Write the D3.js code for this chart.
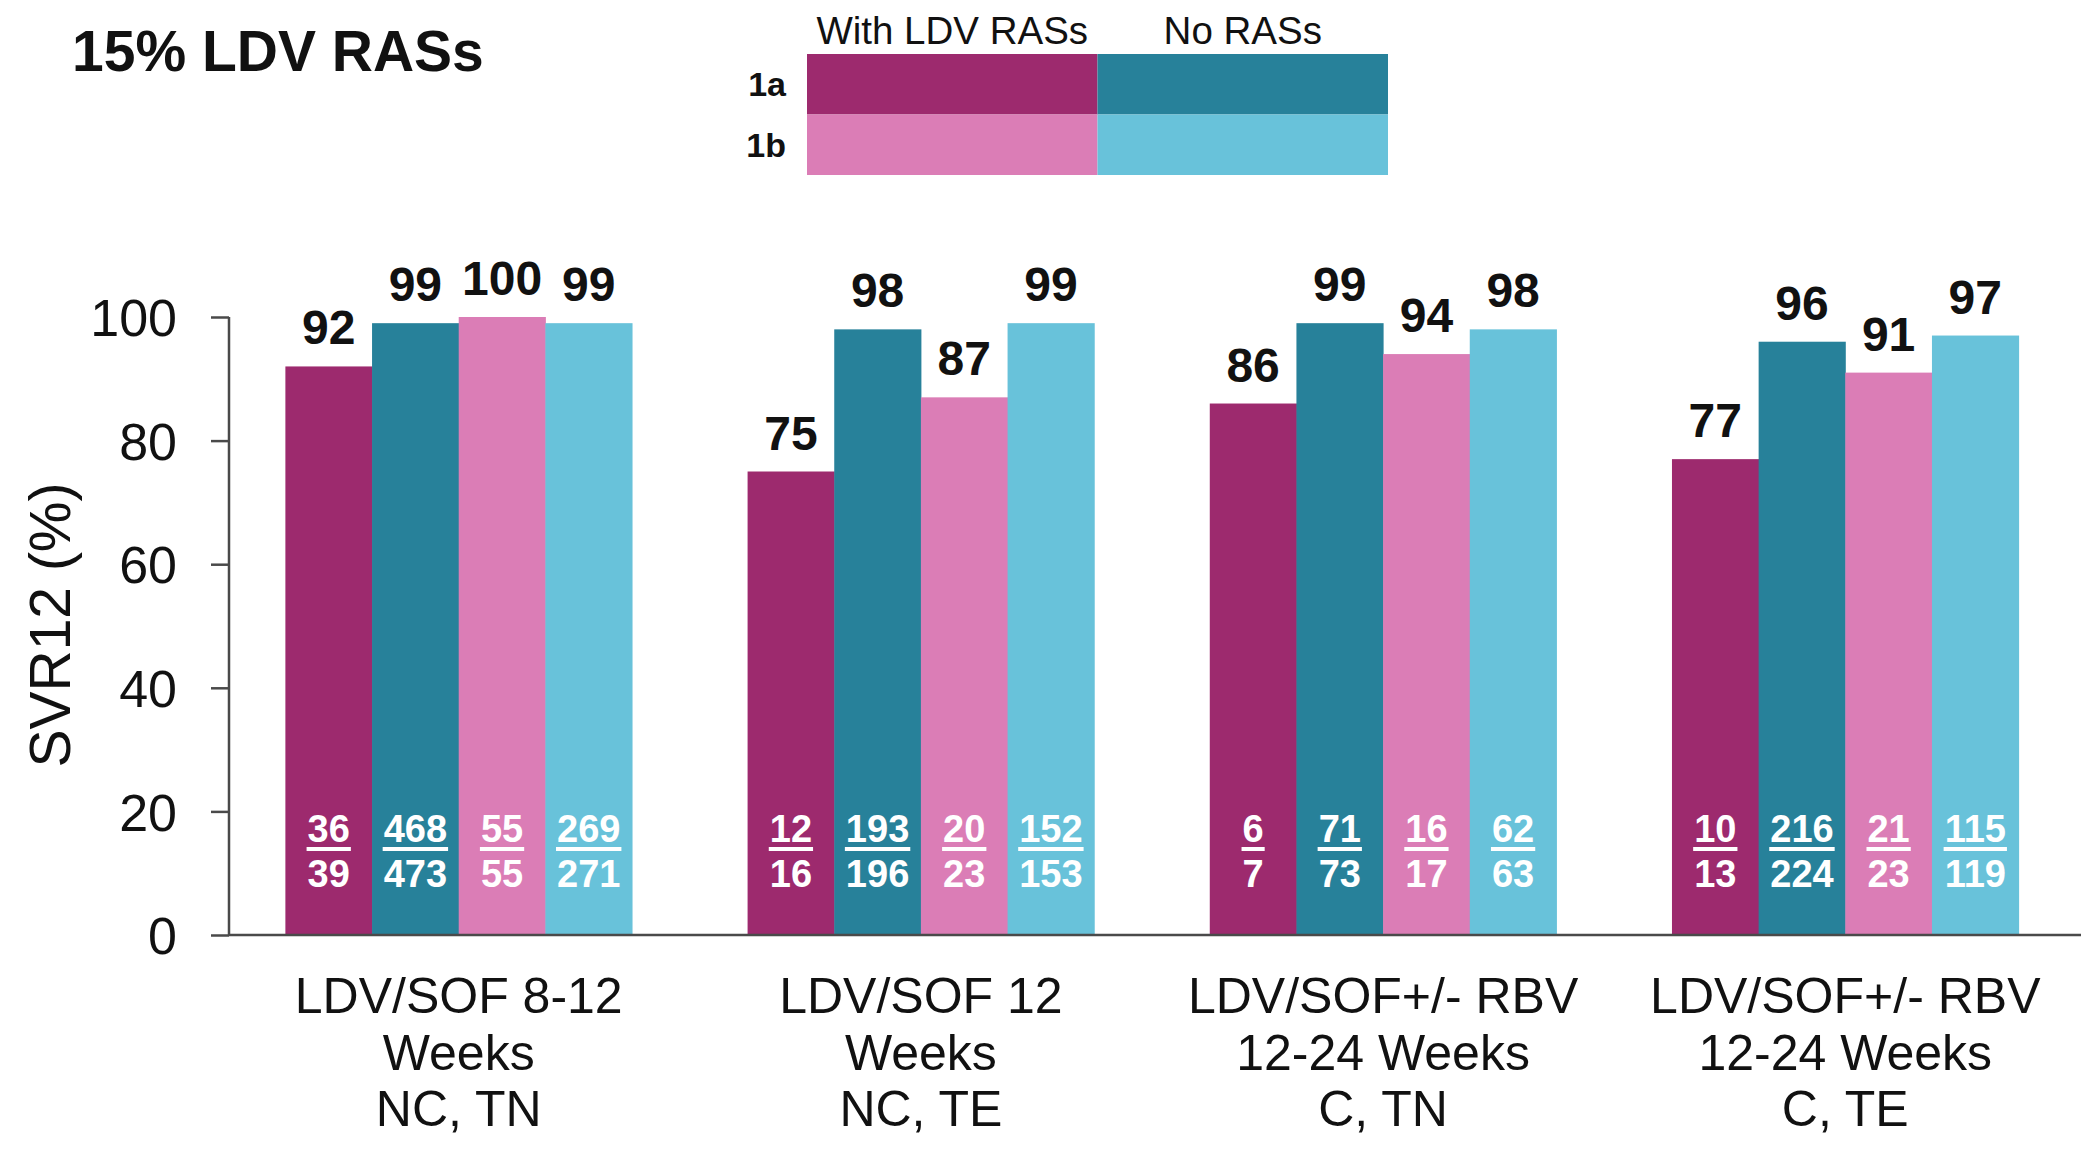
<!DOCTYPE html>
<html>
<head>
<meta charset="utf-8">
<script src="https://cdn.jsdelivr.net/npm/d3@7"></script>
<style>
  html, body { margin: 0; padding: 0; background: #fff; }
  svg { display: block; font-family: "Liberation Sans", Arial, Helvetica, sans-serif; }
</style>
</head>
<body>
<svg id="chart" width="2097" height="1164"></svg>
<script>
// ---- data ----
const title = "15% LDV RASs";
const categories = [
  ["LDV/SOF 8-12", "Weeks", "NC, TN"],
  ["LDV/SOF 12", "Weeks", "NC, TE"],
  ["LDV/SOF+/- RBV", "12-24 Weeks", "C, TN"],
  ["LDV/SOF+/- RBV", "12-24 Weeks", "C, TE"]
];
const seriesNames = ["1a With LDV RASs", "1a No RASs", "1b With LDV RASs", "1b No RASs"];
const legendCols = ["With LDV RASs", "No RASs"];
const legendRows = ["1a", "1b"];
const vals1aWith = [92, 75, 86, 77];
const vals1aNo   = [99, 98, 99, 96];
const vals1bWith = [100, 87, 94, 91];
const vals1bNo   = [99, 99, 98, 97];
const num1aWith = [36, 12, 6, 10];
const den1aWith = [39, 16, 7, 13];
const num1aNo   = [468, 193, 71, 216];
const den1aNo   = [473, 196, 73, 224];
const num1bWith = [55, 20, 16, 21];
const den1bWith = [55, 23, 17, 23];
const num1bNo   = [269, 152, 62, 115];
const den1bNo   = [271, 153, 63, 119];
const yTicks = [0, 20, 40, 60, 80, 100];
const yLabel = "SVR12 (%)";
const colors = ["#9D2A6E", "#27819A", "#DB7DB6", "#68C2DA"];

const seriesVals = [vals1aWith, vals1aNo, vals1bWith, vals1bNo];
const seriesNum = [num1aWith, num1aNo, num1bWith, num1bNo];
const seriesDen = [den1aWith, den1aNo, den1bWith, den1bNo];

// ---- layout ----
const svg = d3.select("#chart");
const xLeft = 229, xRight = 2081, yBottom = 935, yTop = 317;

const x0 = d3.scaleBand().domain(d3.range(categories.length))
  .range([xLeft, 2075]).paddingInner(0.25).paddingOuter(0.122);
const x1 = d3.scaleBand().domain(d3.range(seriesNames.length))
  .range([0, x0.bandwidth()]).padding(0);
const y = d3.scaleLinear().domain([0, 100]).range([yBottom, yTop]);

// data table
const rows = [];
categories.forEach((c, i) => {
  seriesNames.forEach((s, j) => {
    rows.push({ g: i, s: j, v: seriesVals[j][i], n: seriesNum[j][i], d: seriesDen[j][i] });
  });
});

// bars
svg.append("g").selectAll("rect").data(rows).join("rect")
  .attr("x", d => x0(d.g) + x1(d.s))
  .attr("y", d => y(d.v))
  .attr("width", x1.bandwidth() + 0.5)
  .attr("height", d => y(0) - y(d.v))
  .attr("fill", d => colors[d.s]);

// value labels
svg.append("g").selectAll("text").data(rows).join("text")
  .attr("x", d => x0(d.g) + x1(d.s) + x1.bandwidth() / 2)
  .attr("y", d => y(d.v) - 22)
  .attr("text-anchor", "middle")
  .attr("font-size", 48).attr("font-weight", "bold").attr("fill", "#111")
  .text(d => d.v);

// fractions
const fr = svg.append("g").selectAll("g").data(rows).join("g")
  .attr("transform", d => `translate(${x0(d.g) + x1(d.s) + x1.bandwidth() / 2},0)`);
fr.append("text").attr("class", "num")
  .attr("y", 842).attr("text-anchor", "middle")
  .attr("font-size", 38).attr("font-weight", "bold").attr("fill", "#fff")
  .text(d => d.n);
fr.append("text")
  .attr("y", 887).attr("text-anchor", "middle")
  .attr("font-size", 38).attr("font-weight", "bold").attr("fill", "#fff")
  .text(d => d.d);
fr.each(function () {
  const g = d3.select(this);
  const w = g.select("text.num").node().getComputedTextLength();
  g.append("rect").attr("x", -w / 2 - 1).attr("y", 847).attr("width", w + 2).attr("height", 4).attr("fill", "#fff");
});

// y axis
const yAxis = d3.axisLeft(y).tickValues(yTicks).tickSize(18).tickPadding(34);
const ga = svg.append("g").attr("transform", `translate(${xLeft},0)`).call(yAxis);
ga.select(".domain").attr("stroke", "#4a4a4a").attr("stroke-width", 2.5).attr("d", `M0,${y(100)}V${y(0)}`);
ga.selectAll(".tick line").attr("stroke", "#4a4a4a").attr("stroke-width", 2.5);
ga.selectAll(".tick text").attr("font-size", 52).attr("fill", "#111")
  .attr("font-family", "Liberation Sans, Arial, sans-serif").attr("dy", "0.36em");

// x baseline
svg.append("line").attr("x1", xLeft).attr("x2", xRight).attr("y1", y(0)).attr("y2", y(0))
  .attr("stroke", "#4a4a4a").attr("stroke-width", 2.5);

// category labels
const cl = svg.append("g").selectAll("text").data(categories).join("text")
  .attr("x", (d, i) => x0(i) + x0.bandwidth() / 2)
  .attr("text-anchor", "middle").attr("font-size", 50).attr("fill", "#111");
cl.selectAll("tspan").data(d => d).join("tspan")
  .attr("x", function () { return d3.select(this.parentNode).attr("x"); })
  .attr("y", (d, k) => 1013 + k * 56.5)
  .text(d => d);

// y label
svg.append("text").attr("transform", "translate(70,625) rotate(-90)")
  .attr("text-anchor", "middle").attr("font-size", 57).attr("fill", "#111")
  .text(yLabel);

// title
svg.append("text").attr("x", 72).attr("y", 71)
  .attr("font-size", 57).attr("font-weight", "bold").attr("fill", "#111")
  .text(title);

// legend
const lx = d3.scaleBand().domain(legendCols).range([807, 1388]);
const ly = d3.scaleBand().domain(legendRows).range([54, 175]);
const legendCells = [];
legendRows.forEach((r, ri) => legendCols.forEach((c, ci) => legendCells.push({ r, c, color: colors[ri * 2 + ci] })));
svg.append("g").selectAll("rect").data(legendCells).join("rect")
  .attr("x", d => lx(d.c)).attr("y", d => ly(d.r))
  .attr("width", lx.bandwidth()).attr("height", ly.bandwidth())
  .attr("fill", d => d.color);
svg.append("g").selectAll("text").data(legendCols).join("text")
  .attr("x", d => lx(d) + lx.bandwidth() / 2).attr("y", 44)
  .attr("text-anchor", "middle").attr("font-size", 38.5).attr("fill", "#111")
  .text(d => d);
svg.append("g").selectAll("text").data(legendRows).join("text")
  .attr("x", 786).attr("y", d => ly(d) + ly.bandwidth() / 2)
  .attr("dy", "0.36em")
  .attr("text-anchor", "end").attr("font-size", 34).attr("font-weight", "bold").attr("fill", "#111")
  .text(d => d);
</script>
</body>
</html>
